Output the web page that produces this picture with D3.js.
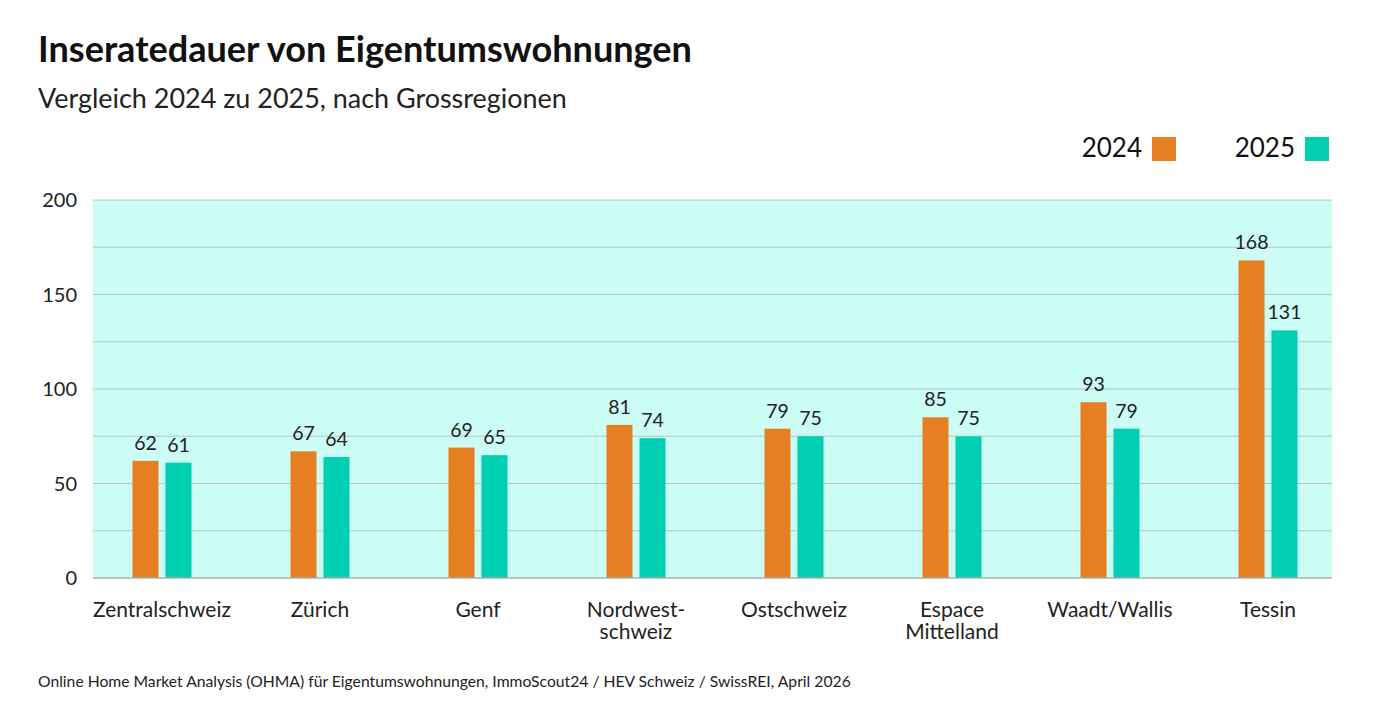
<!DOCTYPE html>
<html>
<head>
<meta charset="utf-8">
<script src="https://cdn.jsdelivr.net/npm/d3@7"></script>
<style>
  body { margin: 0; background: #fff; }
  svg { display: block; font-family: Lato, "Open Sans", sans-serif; }
</style>
</head>
<body>
<svg id="chart" width="1400" height="722"></svg>
<script>
//
//    Chart data
//
const regions = ['Zentralschweiz', 'Zürich', 'Genf', 'Nordwest-\nschweiz', 'Ostschweiz', 'Espace\nMittelland', 'Waadt/Wallis', 'Tessin']
const years = ['2024', '2025']
const values2024 = [62, 67, 69, 81, 79, 85, 93, 168]
const values2025 = [61, 64, 65, 74, 75, 75, 79, 131]
const yTicks = [0, 50, 100, 150, 200]
const gridTicks = [25, 50, 75, 100, 125, 150, 175]
const colours = { '2024': '#e67e22', '2025': '#00cfb2' }

const svg = d3.select('#chart')

// fit a text element to a width
function fitText (sel, width) {
  const w = sel.node().getComputedTextLength()
  const fs = parseFloat(sel.attr('font-size'))
  sel.attr('font-size', fs * width / w)
}

const plot = { left: 93, right: 1332, top: 200, bottom: 578 }

const x = d3.scaleBand().domain(regions).range([83, 1347]).paddingInner(0).paddingOuter(0)
const xInner = d3.scaleOrdinal().domain(years).range([-29.5, 3.5])
const barWidth = 26
const y = d3.scaleLinear().domain([0, 200]).range([plot.bottom, plot.top])

//
// Titles
//
fitText(svg.append('text').attr('x', 38).attr('y', 62).attr('font-size', 31)
  .attr('font-weight', 700).attr('fill', '#111').text('Inseratedauer von Eigentumswohnungen'), 654)
fitText(svg.append('text').attr('x', 38).attr('y', 108).attr('font-size', 24)
  .attr('fill', '#222').text('Vergleich 2024 zu 2025, nach Grossregionen'), 529)

//
// Plot background and grid
//
svg.append('rect')
  .attr('x', plot.left).attr('y', plot.top)
  .attr('width', plot.right - plot.left).attr('height', plot.bottom - plot.top)
  .attr('fill', '#cbfdf4')

svg.append('g').selectAll('line')
  .data(gridTicks.concat([200]))
  .enter().append('line')
  .attr('x1', plot.left).attr('x2', plot.right)
  .attr('y1', d => y(d)).attr('y2', d => y(d))
  .attr('stroke', '#b9c4c2').attr('stroke-width', 1.2)

svg.append('g').selectAll('text')
  .data(yTicks)
  .enter().append('text')
  .attr('x', 77).attr('y', d => y(d) + 7)
  .attr('text-anchor', 'end').attr('font-size', 20).attr('fill', '#222')
  .text(d => d)

//
// Bars
//
const series = years.map((yr, i) => ({ year: yr, values: i === 0 ? values2024 : values2025 }))
const rows = []
series.forEach(s => s.values.forEach((v, i) => rows.push({ year: s.year, region: regions[i], value: v })))

svg.append('g').selectAll('rect')
  .data(rows)
  .enter().append('rect')
  .attr('x', d => x(d.region) + x.bandwidth() / 2 + xInner(d.year))
  .attr('y', d => y(d.value))
  .attr('width', barWidth)
  .attr('height', d => y(0) - y(d.value))
  .attr('fill', d => colours[d.year])

svg.append('g').selectAll('text')
  .data(rows)
  .enter().append('text')
  .attr('x', d => x(d.region) + x.bandwidth() / 2 + xInner(d.year) + barWidth / 2)
  .attr('y', d => y(d.value) - 11)
  .attr('text-anchor', 'middle').attr('font-size', 19.5).attr('fill', '#222')
  .text(d => d.value)

// baseline
svg.append('line')
  .attr('x1', plot.left).attr('x2', plot.right)
  .attr('y1', y(0)).attr('y2', y(0))
  .attr('stroke', '#a9b3b1').attr('stroke-width', 1.5)

//
// Category labels
//
const xLabels = svg.append('g').selectAll('text')
  .data(regions)
  .enter().append('text')
  .attr('x', d => x(d) + x.bandwidth() / 2)
  .attr('y', 617)
  .attr('text-anchor', 'middle').attr('font-size', 21).attr('fill', '#222')
xLabels.selectAll('tspan')
  .data(d => d.split('\n'))
  .enter().append('tspan')
  .attr('x', function () { return d3.select(this.parentNode).attr('x') })
  .attr('dy', (d, i) => i === 0 ? 0 : 22)
  .text(d => d)

//
// Legend
//
const legend = svg.append('g')
const legendX = { '2024': 1152, '2025': 1305 }
years.forEach(yr => {
  legend.append('rect')
    .attr('x', legendX[yr]).attr('y', 137)
    .attr('width', 24).attr('height', 24)
    .attr('fill', colours[yr])
  legend.append('text')
    .attr('x', legendX[yr] - 10).attr('y', 157)
    .attr('text-anchor', 'end').attr('font-size', 26).attr('fill', '#111')
    .text(yr)
})

//
// Source
//
fitText(svg.append('text').attr('x', 38).attr('y', 687).attr('font-size', 15)
  .attr('fill', '#222')
  .text('Online Home Market Analysis (OHMA) für Eigentumswohnungen, ImmoScout24 / HEV Schweiz / SwissREI, April 2026'), 813)
</script>
</body>
</html>
